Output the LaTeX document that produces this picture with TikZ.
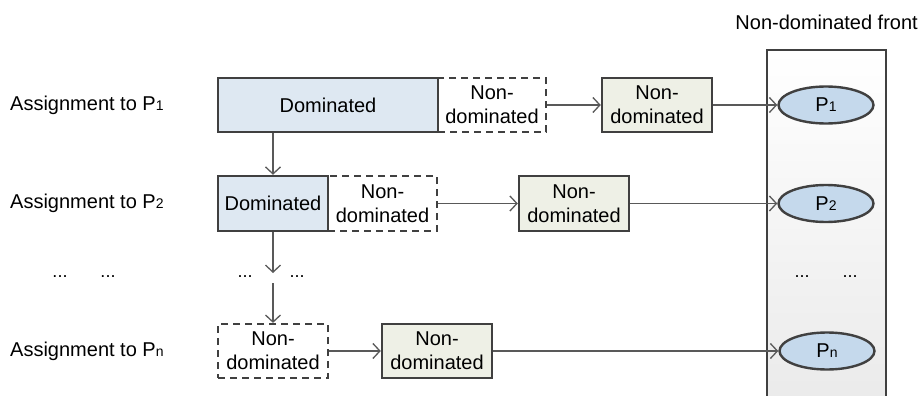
\documentclass[tikz,border=0pt]{standalone}
\usepackage{fontspec}
\setmainfont{Liberation Sans}
\usetikzlibrary{arrows.meta,shapes.geometric}
\definecolor{edge}{HTML}{404040}
\definecolor{line}{HTML}{595959}
\definecolor{domfill}{HTML}{DEE8F2}
\definecolor{ndfill}{HTML}{EEF0E6}
\definecolor{pfill}{HTML}{C5D9EC}
\newcommand{\sbs}[1]{{\fontsize{14}{14}\selectfont #1}}
\begin{document}
\begin{tikzpicture}[x=1pt,y=-1pt,
  every node/.style={font=\fontsize{20}{24}\selectfont, inner sep=0pt, text=black},
  box/.style={draw=edge, line width=2.4pt, rectangle, anchor=center, align=center},
  dombox/.style={box, fill=domfill},
  dashbox/.style={draw=edge, line width=2.2pt, dash pattern=on 7pt off 5pt, align=center},
  ndbox/.style={box, fill=ndfill},
  pell/.style={ellipse, draw=edge, line width=2.4pt, fill=pfill, minimum width=95pt, minimum height=37pt},
  conn/.style={draw=line, line width=1.3pt, -{Straight Barb[length=7pt,width=15pt,line width=1.3pt]}},
  lbl/.style={anchor=west},
  dots/.style={font=\fontsize{18}{18}\selectfont}
]
\useasboundingbox (0,0) rectangle (921,396);
% front rectangle
\shade[top color=white, bottom color=black!8] (767,50) rectangle (886,396);
\draw[draw=edge, line width=2.4pt] (767,397) -- (767,50) -- (886,50) -- (886,397);
\node[anchor=east] (fronttitle) at (918,22) {Non-dominated front};

% labels
\node[lbl] (l1) at (10,105) {Assignment to P\sbs{1}};
\node[lbl] (l2) at (10,203) {Assignment to P\sbs{2}};
\node[lbl] (ln) at (10,351) {Assignment to P\sbs{n}};
\node[dots] (dl1) at (60,277) {...};
\node[dots] (dl2) at (108,277) {...};
\node[dots] (dm1) at (245,277) {...};
\node[dots] (dm2) at (297,277) {...};
\node[dots] (dr1) at (802,277) {...};
\node[dots] (dr2) at (850,277) {...};

% row 1
\node[dombox, minimum width=220pt, minimum height=54pt] (d1) at (328,105) {Dominated};
\node[dashbox, minimum width=108pt, minimum height=54pt] (x1) at (492,105) {Non-\\dominated};
\node[ndbox, minimum width=110pt, minimum height=54pt] (n1) at (657,105) {Non-\\dominated};
\node[pell] (p1) at (826,105) {P\sbs{1}};

% row 2
\node[dombox, minimum width=110pt, minimum height=55pt] (d2) at (273,203.5) {Dominated};
\node[dashbox, minimum width=109pt, minimum height=55pt] (x2) at (382.5,203.5) {Non-\\dominated};
\node[ndbox, minimum width=110pt, minimum height=55pt] (n2) at (574,203.5) {Non-\\dominated};
\node[pell] (p2) at (826,203.5) {P\sbs{2}};

% row n
\node[dashbox, minimum width=110pt, minimum height=54pt] (xn) at (273,351) {Non-\\dominated};
\node[ndbox, minimum width=110pt, minimum height=54pt] (nn) at (437,351) {Non-\\dominated};
\node[pell] (pn) at (827,351) {P\sbs{n}};

\coordinate (mid1) at (273,273);
\coordinate (mid2) at (273,283);

% connectors
\draw[conn] (x1.east) -- (n1.west);
\draw[conn] (n1.east) -- (p1.west);
\draw[conn] (x2.east) -- (n2.west);
\draw[conn] (n2.east) -- (p2.west);
\draw[conn] (xn.east) -- (nn.west);
\draw[conn] (nn.east) -- (pn.west);
\draw[conn] (d1.south -| d2.north) -- (d2.north);
\draw[conn] (d2.south) -- (mid1);
\draw[conn] (mid2) -- (xn.north);
\end{tikzpicture}
\end{document}
